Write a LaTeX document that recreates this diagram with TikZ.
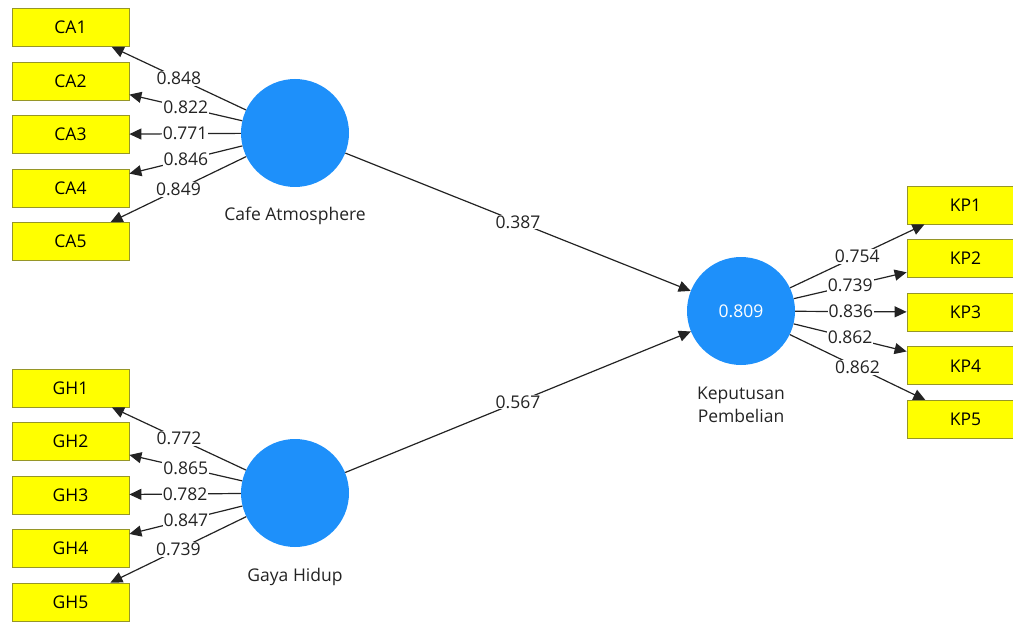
\documentclass[tikz,border=0pt]{standalone}
\usepackage{fontspec}
\setmainfont{Open Sans}
\usetikzlibrary{arrows.meta}
\definecolor{lvblue}{RGB}{30,144,250}
\definecolor{mvyellow}{RGB}{255,255,0}
\definecolor{mvborder}{RGB}{150,150,40}
\definecolor{linegray}{RGB}{35,35,35}
\begin{document}
\begin{tikzpicture}[x=1pt,y=-1pt,
  font=\fontsize{17.5}{21}\selectfont,
  indicator/.style={draw=mvborder, fill=mvyellow, minimum width=117pt, minimum height=38pt, inner sep=0pt, line width=0.8pt, text=black},
  latent/.style={circle, fill=lvblue, minimum size=108pt, inner sep=0pt, text=white},
  lvname/.style={text=linegray, align=center, inner sep=0pt},
  relation/.style={draw=linegray, line width=1.2pt, -{Triangle[length=12pt,width=11pt]}},
  coef/.style={fill=white, inner sep=1pt, text=linegray, pos=0.5}
]
\useasboundingbox (0,0) rectangle (1013,623);
\clip (0,0) rectangle (1013,623);

% latent variables
\node[latent] (CA) at (295,133) {};
\node[latent] (GH) at (295,493) {};
\node[latent] (KP) at (741,311) {0.809};
\node[lvname] (CAname) at (295,216) {Cafe Atmosphere};
\node[lvname] (GHname) at (295,577) {Gaya Hidup};
\node[lvname] (KPname) at (741,405) {Keputusan\\[2pt]Pembelian};

% indicators
\foreach \i in {1,...,5} {
  \node[indicator] (CA\i) at (70.5,{27.5+53.5*(\i-1)}) {CA\i};
  \node[indicator] (GH\i) at (70.5,{388+53.5*(\i-1)}) {GH\i};
  \node[indicator] (KP\i) at (965.5,{205+53.6*(\i-1)}) {KP\i};
}

% outer loadings
\foreach \i/\v in {1/0.848,2/0.822,3/0.771,4/0.846,5/0.849}
  \draw[relation] (CA) -- node[coef] {\v} (CA\i);
\foreach \i/\v in {1/0.772,2/0.865,3/0.782,4/0.847,5/0.739}
  \draw[relation] (GH) -- node[coef] {\v} (GH\i);
\foreach \i/\v in {1/0.754,2/0.739,3/0.836,4/0.862,5/0.862}
  \draw[relation] (KP) -- node[coef] {\v} (KP\i);

% structural paths
\draw[relation] (CA) -- node[coef] {0.387} (KP);
\draw[relation] (GH) -- node[coef] {0.567} (KP);
\end{tikzpicture}
\end{document}
